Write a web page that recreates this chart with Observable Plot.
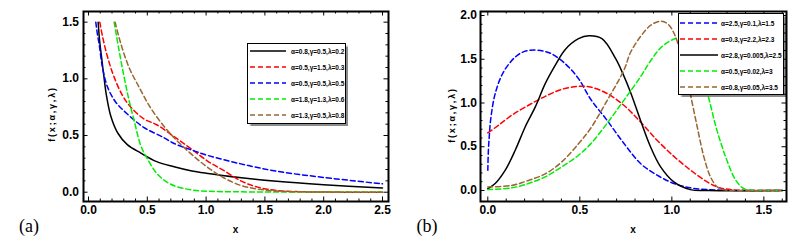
<!DOCTYPE html>
<html><head><meta charset="utf-8">
<script src="https://cdn.jsdelivr.net/npm/d3@7"></script>
<script src="https://cdn.jsdelivr.net/npm/@observablehq/plot@0.6"></script>
<style>
body{margin:0;background:#fff;}
#wrap{position:relative;width:803px;height:240px;overflow:hidden;font-family:"Liberation Sans",Arial,sans-serif;background:#fff;}
.panel{position:absolute;top:0;}
.t{position:absolute;white-space:nowrap;line-height:1;}
.yl{position:absolute;white-space:nowrap;line-height:1;font:bold 12px "Liberation Sans",Arial,sans-serif;color:#000;transform:translate(-100%,-50%);}
.legend{position:absolute;background:#fff;border:1px solid #000;box-sizing:border-box;box-shadow:1.5px 1.5px 1px rgba(0,0,0,0.45);}
.legend .txt{position:absolute;font:bold 6.5px "Liberation Sans",Arial,sans-serif;white-space:nowrap;transform:translateY(-50%);}
</style></head><body><div id="wrap"></div>
<script>
// ---------- Panel (a) data ----------
const labelsA = ["α=0.8,γ=0.5,λ=0.2","α=0.5,γ=1.5,λ=0.3","α=0.5,γ=0.5,λ=0.5","α=1.8,γ=1.3,λ=0.6","α=1.3,γ=0.5,λ=0.8"];
const colorsA = ["#000000","#ff0000","#0000ff","#00ee00","#996633"];
const dashedA = [false,true,true,true,true];
const blackA = [[0.082,1.5],[0.095,1.33],[0.11,1.2],[0.13,1.03],[0.15,0.87],[0.19,0.67],[0.25,0.52],[0.33,0.42],[0.445,0.345],[0.58,0.27],[0.728,0.225],[0.87,0.19],[1.0,0.168],[1.3,0.128],[1.6,0.096],[2.0,0.066],[2.5,0.037]];
const redA = [[0.096,1.5],[0.12,1.37],[0.147,1.25],[0.18,1.13],[0.218,1.015],[0.289,0.853],[0.36,0.75],[0.473,0.645],[0.58,0.595],[0.728,0.49],[0.87,0.385],[1.012,0.275],[1.153,0.19],[1.295,0.1],[1.437,0.045],[1.6,0.015],[1.8,0.004],[2.1,0.001],[2.5,0]];
const blueA = [[0.062,1.5],[0.075,1.4],[0.09,1.31],[0.119,1.1],[0.162,0.927],[0.232,0.794],[0.33,0.69],[0.473,0.57],[0.643,0.48],[0.728,0.43],[0.87,0.375],[1.012,0.325],[1.295,0.25],[1.6,0.185],[2.0,0.13],[2.5,0.074]];
const greenA = [[0.218,1.5],[0.26,1.25],[0.303,1.015],[0.345,0.81],[0.388,0.633],[0.445,0.41],[0.5,0.295],[0.587,0.158],[0.7,0.07],[0.87,0.021],[1.03,0.008],[1.5,0.002],[2.5,0.001]];
const brownA = [[0.226,1.5],[0.275,1.31],[0.345,1.1],[0.43,0.927],[0.53,0.74],[0.643,0.58],[0.728,0.48],[0.87,0.34],[1.012,0.22],[1.153,0.125],[1.295,0.06],[1.437,0.028],[1.6,0.01],[1.9,0.002],[2.5,0]];
const xTicksA = [0,0.5,1,1.5,2,2.5];
const yTicksA = [0,0.5,1,1.5];

// ---------- Panel (b) data ----------
const labelsB = ["α=2.5,γ=0.1,λ=1.5","α=0.3,γ=2.2,λ=2.3","α=2.8,γ=0.005,λ=2.5","α=0.5,γ=0.02,λ=3","α=0.8,γ=0.05,λ=3.5"];
const colorsB = ["#0000ff","#ff0000","#000000","#00ee00","#996633"];
const dashedB = [true,true,false,true,true];
const blueB = [[0,0.23],[0.003,0.45],[0.008,0.62],[0.015,0.8],[0.04,1.107],[0.085,1.354],[0.149,1.525],[0.2,1.59],[0.258,1.605],[0.31,1.59],[0.349,1.56],[0.42,1.45],[0.493,1.278],[0.56,1.04],[0.645,0.81],[0.739,0.54],[0.83,0.308],[0.92,0.175],[1.011,0.08],[1.1,0.03],[1.19,0.01],[1.3,0.002],[1.45,0],[1.6,0]];
const redB = [[0,0.658],[0.058,0.745],[0.13,0.86],[0.221,0.974],[0.312,1.076],[0.402,1.156],[0.493,1.19],[0.558,1.183],[0.649,1.107],[0.739,0.974],[0.83,0.783],[0.92,0.574],[1.011,0.39],[1.102,0.232],[1.192,0.098],[1.255,0.035],[1.32,0.01],[1.45,0.001],[1.6,0]];
const blackB = [[0,0.02],[0.04,0.08],[0.094,0.23],[0.149,0.46],[0.203,0.726],[0.258,0.955],[0.312,1.221],[0.366,1.43],[0.42,1.61],[0.493,1.735],[0.549,1.768],[0.62,1.735],[0.694,1.51],[0.735,1.33],[0.776,1.12],[0.83,0.8],[0.884,0.5],[0.939,0.27],[1.011,0.098],[1.1,0.01],[1.2,0],[1.6,0]];
const greenB = [[0,0.01],[0.13,0.03],[0.221,0.08],[0.312,0.156],[0.402,0.27],[0.493,0.403],[0.558,0.53],[0.649,0.77],[0.739,1.03],[0.83,1.3],[0.884,1.48],[0.939,1.63],[1.0,1.72],[1.07,1.755],[1.11,1.68],[1.138,1.49],[1.17,1.27],[1.2,1.06],[1.238,0.74],[1.27,0.52],[1.3,0.34],[1.347,0.118],[1.392,0.02],[1.45,0.002],[1.6,0]];
const brownB = [[0,0.04],[0.13,0.058],[0.221,0.115],[0.312,0.19],[0.402,0.327],[0.493,0.535],[0.558,0.708],[0.649,1.03],[0.739,1.373],[0.776,1.58],[0.83,1.76],[0.884,1.887],[0.939,1.935],[0.98,1.9],[1.011,1.8],[1.045,1.6],[1.075,1.37],[1.1,1.11],[1.138,0.726],[1.174,0.384],[1.21,0.155],[1.247,0.04],[1.28,0.01],[1.35,0],[1.6,0]];
const xTicksB = [0,0.5,1,1.5];
const yTicksB = [0,0.5,1,1.5,2];

const yTitle = "f(x;α,γ,λ)";
const xTitle = "x";

const fmt = d => Number(d).toFixed(1);

function minor(lo, hi, majors){
  return d3.range(Math.round(lo*10), Math.round(hi*10)+1).map(i=>i/10).filter(v=>!majors.some(m=>Math.abs(m-v)<1e-9));
}

function panel(o){
  const H = o.height - o.mt - o.mb, W = o.width - o.ml - o.mr;
  const xMinor = minor(0, Math.floor(o.xDomain[1]*10)/10, o.xTicks);
  const yMinor = minor(0, Math.floor(o.yDomain[1]*10)/10, o.yTicks);
  const marks = [];
  o.series.forEach(s => marks.push(Plot.line(s.data, {stroke: s.color, strokeWidth: 1.5, strokeDasharray: s.dash ? "5,3" : null, curve: "catmull-rom", clip: true})));
  marks.push(Plot.tickX(o.xTicks, {x: d=>d, insetTop: H-4.5, strokeWidth: 1}));
  marks.push(Plot.tickX(o.xTicks, {x: d=>d, insetBottom: H-4.5, strokeWidth: 1}));
  marks.push(Plot.tickX(xMinor, {x: d=>d, insetTop: H-2.5, strokeWidth: 1}));
  marks.push(Plot.tickX(xMinor, {x: d=>d, insetBottom: H-2.5, strokeWidth: 1}));
  marks.push(Plot.tickY(o.yTicks, {y: d=>d, insetRight: W-4.5, strokeWidth: 1}));
  marks.push(Plot.tickY(o.yTicks, {y: d=>d, insetLeft: W-4.5, strokeWidth: 1}));
  marks.push(Plot.tickY(yMinor, {y: d=>d, insetRight: W-2.5, strokeWidth: 1}));
  marks.push(Plot.tickY(yMinor, {y: d=>d, insetLeft: W-2.5, strokeWidth: 1}));
  marks.push(Plot.text(o.xTicks, {x: d=>d, text: d=>fmt(d), frameAnchor: "bottom", lineAnchor: "top", dy: 4, fontSize: 12, fontWeight: "bold", fill: "#000"}));
  marks.push(Plot.frame({stroke: "#000", strokeWidth: 2}));
  return Plot.plot({
    width: o.width, height: o.height,
    marginLeft: o.ml, marginRight: o.mr, marginTop: o.mt, marginBottom: o.mb,
    x: {domain: o.xDomain, axis: null}, y: {domain: o.yDomain, axis: null},
    style: {fontFamily: '"Liberation Sans", Arial, sans-serif', fontSize: "12px", fontWeight: "bold", color: "#000", background: "transparent"},
    marks
  });
}

const wrap = d3.select("#wrap");

function addPanel(left, o){
  const svg = panel(o);
  const div = wrap.append("div").attr("class","panel").style("left", left+"px");
  div.node().appendChild(svg);
  // y tick labels, positioned with the plot's own y scale
  const ys = svg.scale("y");
  o.yTicks.forEach(v => {
    wrap.append("div").attr("class","yl").text(fmt(v))
      .style("left", (left + o.ml - o.padY) + "px")
      .style("top", ys.apply(v) + "px");
  });
}

addPanel(0, {width: 400, height: 240, ml: 83, mr: 12, mt: 11, mb: 39,
  xDomain: [-0.0425, 2.551], yDomain: [-0.082, 1.594], xTicks: xTicksA, yTicks: yTicksA, padY: 4,
  series: [blackA, redA, blueA, greenA, brownA].map((d,i)=>({data:d, color: colorsA[i], dash: dashedA[i]}))});

addPanel(400, {width: 403, height: 240, ml: 80, mr: 17, mt: 11, mb: 39,
  xDomain: [-0.0397, 1.623], yDomain: [-0.126, 2.046], xTicks: xTicksB, yTicks: yTicksB, padY: 3,
  series: [blueB, redB, blackB, greenB, brownB].map((d,i)=>({data:d, color: colorsB[i], dash: dashedB[i]}))});

function text(str, x, y, css, rotate){
  const s = wrap.append("div").attr("class","t").text(str)
    .style("left", x+"px").style("top", y+"px")
    .style("transform", "translate(-50%,-50%)" + (rotate ? " rotate(-90deg)" : ""));
  Object.entries(css).forEach(([k,v]) => s.style(k, v));
}
const titleCss = {font: 'bold 9px "Liberation Sans", Arial, sans-serif', "letter-spacing": "1.8px"};
text(yTitle, 52, 114, titleCss, true);
text(yTitle, 452, 115, titleCss, true);
text(xTitle, 235.5, 229, {font: 'bold 10px "Liberation Sans", Arial, sans-serif'});
text(xTitle, 633, 229, {font: 'bold 10px "Liberation Sans", Arial, sans-serif'});
text("(a)", 29, 226, {font: '18px "Liberation Serif", "Times New Roman", serif'});
text("(b)", 427, 226, {font: '18px "Liberation Serif", "Times New Roman", serif'});

function legend(o, labels, colors, dashed){
  const box = wrap.append("div").attr("class","legend")
    .style("left", o.left+"px").style("top", o.top+"px")
    .style("width", o.w+"px").style("height", o.h+"px");
  labels.forEach((lab, i) => {
    const cy = o.y0 + i*o.dy;
    const svg = box.append("svg").attr("width", o.x1 - o.x0 + 2).attr("height", 4)
      .style("position","absolute").style("left", (o.x0-1)+"px").style("top", (cy-2)+"px");
    svg.append("line").attr("x1",1).attr("x2", o.x1 - o.x0 + 1).attr("y1",2).attr("y2",2)
      .attr("stroke", colors[i]).attr("stroke-width", 1.5)
      .attr("stroke-dasharray", dashed[i] ? "5,3" : null);
    box.append("div").attr("class","txt").text(lab).style("left", o.tx+"px").style("top", cy+"px");
  });
}
legend({left: 247, top: 43, w: 99, h: 81, y0: 7, dy: 15.9, x0: 2, x1: 38, tx: 43}, labelsA, colorsA, dashedA);
legend({left: 677.5, top: 12.5, w: 106, h: 82.5, y0: 9, dy: 16, x0: 1.5, x1: 39.5, tx: 42.5}, labelsB, colorsB, dashedB);
</script></body></html>
